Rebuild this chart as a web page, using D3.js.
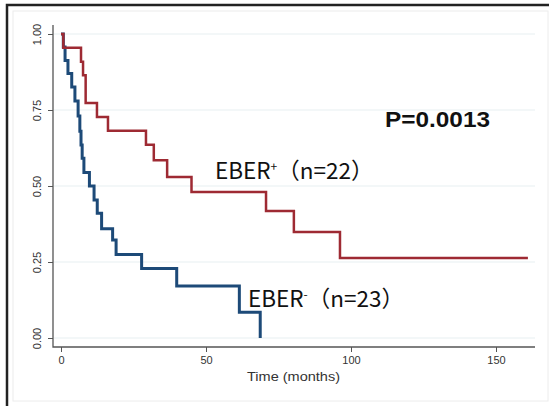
<!DOCTYPE html>
<html lang="en">
<head>
<meta charset="UTF-8"/>
<title>Kaplan-Meier EBER</title>
<script src="https://d3js.org/d3.v7.min.js"></script>
<style>
    body, html { margin: 0; padding: 0; background: #fff; overflow: hidden; }
    svg { display: block; }
</style>
</head>
<body>
<svg id="chart" width="549" height="406"></svg>
<script>
    // survival steps: [months, survival]
    const eberPos = [
        [0, 1], [0.8, 0.955], [6.9, 0.909], [7.6, 0.864], [8.5, 0.773],
        [12.4, 0.727], [16.2, 0.682], [29.3, 0.636], [32.0, 0.585],
        [36.6, 0.53], [45.0, 0.48], [70.7, 0.418], [80.3, 0.349],
        [96.2, 0.263], [161, 0.263]
    ];
    const eberNeg = [
        [0, 1], [0.8, 0.957], [1.4, 0.913], [2.4, 0.870], [3.7, 0.826],
        [4.8, 0.780], [5.9, 0.730], [6.5, 0.680], [6.9, 0.635], [7.3, 0.591],
        [7.9, 0.544], [9.8, 0.50], [11.4, 0.454], [12.5, 0.41], [14.0, 0.359],
        [17.8, 0.322], [19.0, 0.275], [27.8, 0.229], [39.9, 0.171],
        [61.5, 0.085], [68.7, 0]
    ];
    const xTicks = [0, 50, 100, 150];
    const yTicks = [0, 0.25, 0.5, 0.75, 1];

    const svg = d3.select("#chart");

    // outer frame
    svg.append("rect").attr("x", 13).attr("y", 11).attr("width", 535).attr("height", 390)
        .attr("fill", "none").attr("stroke", "#ececec");
    svg.append("path").attr("d", "M7,406V5H549")
        .attr("fill", "none").attr("stroke", "#222").attr("stroke-width", 2.5);

    const x = d3.scaleLinear().domain([0, 150]).range([61, 496]);
    const y = d3.scaleLinear().domain([0, 1]).range([338, 34]);

    // grid
    svg.append("g").selectAll("line").data(yTicks).enter().append("line")
        .attr("x1", 54).attr("x2", 535)
        .attr("y1", d => y(d)).attr("y2", d => y(d))
        .attr("stroke", "#e8f0f2").attr("stroke-width", 1.2);

    // axes
    const yAxis = svg.append("g").attr("transform", "translate(53,0)")
        .call(d3.axisLeft(y).tickValues(yTicks).tickSize(5).tickFormat(d3.format(".2f")));
    yAxis.select(".domain").remove();
    yAxis.selectAll(".tick line").attr("stroke", "#555");
    yAxis.selectAll(".tick text")
        .attr("transform", "rotate(-90)")
        .attr("x", 0).attr("y", -16).attr("dy", "0.35em")
        .style("text-anchor", "middle")
        .attr("font-family", "Liberation Sans, Arial, sans-serif")
        .attr("font-size", 11).attr("fill", "#333");

    const xAxis = svg.append("g").attr("transform", "translate(0,347)")
        .call(d3.axisBottom(x).tickValues(xTicks).tickSize(5).tickFormat(d3.format("d")));
    xAxis.select(".domain").remove();
    xAxis.selectAll(".tick line").attr("stroke", "#555");
    xAxis.selectAll(".tick text").attr("y", 9)
        .attr("font-family", "Liberation Sans, Arial, sans-serif")
        .attr("font-size", 11).attr("fill", "#333");

    svg.append("path").attr("d", "M53,25V347H535")
        .attr("fill", "none").attr("stroke", "#555").attr("stroke-width", 1.3);

    svg.append("text").attr("x", 247).attr("y", 381)
        .attr("font-family", "Liberation Sans, Arial, sans-serif")
        .attr("font-size", 13).attr("fill", "#333")
        .attr("textLength", 93).attr("lengthAdjust", "spacingAndGlyphs")
        .text("Time (months)");

    // curves
    const line = d3.line().curve(d3.curveStepAfter)
        .x(d => x(d[0])).y(d => y(d[1]));

    svg.append("path").datum(eberNeg).attr("d", line)
        .attr("fill", "none").attr("stroke", "#1d4a78").attr("stroke-width", 3);
    svg.append("path").datum(eberPos).attr("d", line)
        .attr("fill", "none").attr("stroke", "#9e2a33").attr("stroke-width", 2.5);

    // annotations
    const labelFont = "'Noto Sans CJK JP', 'Noto Sans', sans-serif";
    svg.append("text").attr("x", 385).attr("y", 127)
        .attr("font-family", "Liberation Sans, Arial, sans-serif")
        .attr("font-weight", "bold").attr("font-size", 22).attr("fill", "#111")
        .attr("textLength", 105).attr("lengthAdjust", "spacingAndGlyphs")
        .text("P=0.0013");

    function groupLabel(x0, y0, sup, rest, size) {
        const t = svg.append("text").attr("x", x0).attr("y", y0)
            .attr("font-family", labelFont).attr("font-size", size).attr("fill", "#111");
        t.append("tspan").text("EBER");
        t.append("tspan").attr("font-size", 12).attr("dy", -8).text(sup);
        t.append("tspan").attr("dy", 8).text(rest);
        return t;
    }
    groupLabel(215, 179, "+", "（n=22）", 22.5);
    groupLabel(248, 307, "-", "（n=23）", 22.5);
</script>
</body>
</html>
